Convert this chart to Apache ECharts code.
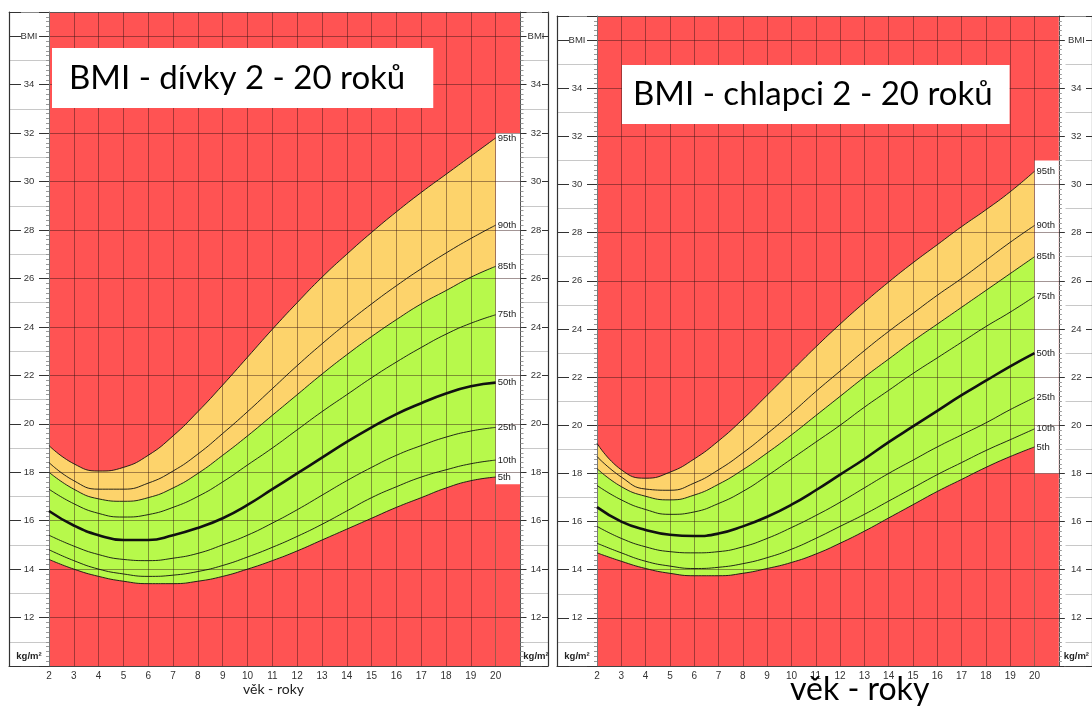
<!DOCTYPE html>
<html><head><meta charset="utf-8">
<script src="https://cdn.jsdelivr.net/npm/echarts@6/dist/echarts.min.js"></script>
<style>html,body{margin:0;padding:0;background:#fff;}#c{width:1092px;height:708px;}</style>
</head><body><div id="c"></div>
<script>
const ages = [2,3,4,5,6,7,8,9,10,11,12,13,14,15,16,17,18,19,20];
const pctLabels = ['5th','10th','25th','50th','75th','85th','90th','95th'];
// Girls (dívky)
const girlsP5  = [14.4,14.0,13.7,13.5,13.4,13.4,13.5,13.7,14.0,14.35,14.75,15.2,15.65,16.1,16.55,16.95,17.35,17.65,17.8];
const girlsP10 = [14.8,14.35,14.0,13.8,13.7,13.75,13.9,14.15,14.5,14.9,15.35,15.85,16.4,16.95,17.4,17.8,18.1,18.35,18.5];
const girlsP25 = [15.4,14.95,14.6,14.4,14.35,14.45,14.65,15.0,15.4,15.9,16.45,17.05,17.65,18.2,18.7,19.1,19.45,19.7,19.85];
const girlsP50 = [16.4,15.8,15.4,15.2,15.2,15.4,15.7,16.1,16.65,17.3,17.95,18.6,19.25,19.85,20.4,20.85,21.25,21.55,21.7];
const girlsP75 = [17.3,16.7,16.3,16.15,16.25,16.55,17.0,17.6,18.3,19.0,19.75,20.5,21.2,21.9,22.55,23.15,23.7,24.15,24.5];
const girlsP85 = [18.0,17.3,16.9,16.8,16.95,17.35,17.95,18.7,19.5,20.35,21.2,22.05,22.85,23.6,24.3,24.95,25.5,26.05,26.5];
const girlsP90 = [18.4,17.65,17.3,17.3,17.55,18.05,18.75,19.6,20.5,21.45,22.4,23.3,24.15,24.95,25.7,26.4,27.05,27.65,28.2];
const girlsP95 = [19.1,18.35,18.05,18.2,18.7,19.5,20.5,21.6,22.75,23.9,25.0,26.05,27.0,27.9,28.75,29.55,30.3,31.05,31.8];
// Boys (chlapci)
const boysP5  = [14.7,14.35,14.05,13.85,13.75,13.75,13.85,14.05,14.3,14.65,15.1,15.6,16.15,16.7,17.25,17.75,18.25,18.7,19.1];
const boysP10 = [15.1,14.7,14.35,14.15,14.05,14.1,14.25,14.5,14.85,15.3,15.8,16.3,16.85,17.4,17.95,18.45,18.95,19.4,19.85];
const boysP25 = [15.8,15.3,14.95,14.75,14.7,14.75,14.95,15.3,15.75,16.25,16.8,17.4,18.0,18.55,19.1,19.6,20.1,20.65,21.15];
const boysP50 = [16.6,16.0,15.65,15.45,15.4,15.5,15.8,16.2,16.7,17.3,17.95,18.6,19.3,19.95,20.6,21.25,21.85,22.45,23.0];
const boysP75 = [17.5,16.9,16.5,16.3,16.4,16.75,17.25,17.9,18.6,19.3,20.0,20.75,21.45,22.15,22.8,23.45,24.1,24.7,25.35];
const boysP85 = [18.2,17.45,17.05,16.9,17.1,17.55,18.15,18.85,19.6,20.4,21.2,22.0,22.75,23.5,24.2,24.9,25.6,26.3,27.0];
const boysP90 = [18.7,17.85,17.35,17.3,17.6,18.15,18.85,19.65,20.5,21.4,22.25,23.1,23.9,24.65,25.4,26.1,26.85,27.6,28.3];
const boysP95 = [19.25,18.15,17.8,18.05,18.6,19.35,20.25,21.25,22.25,23.25,24.2,25.1,25.95,26.75,27.5,28.25,28.95,29.7,30.55];
// label boxes (white column low/high BMI)
const girlsLabelBox = [17.5, 32.0];
const boysLabelBox = [18.0, 31.0];
const titleGirls = 'BMI - dívky 2 - 20 roků';
const titleBoys = 'BMI - chlapci 2 - 20 roků';
const xName = 'věk - roky';

const RED = '#FF5353', YEL = '#FDD36B', GRN = '#B7F94B';
const GRIDC = 'rgba(50,20,20,0.45)';
const FONT = 'Liberation Sans';

function pairs(arr){ return ages.map((a,i)=>[a,arr[i]]); }
function yFmt(v){ if(v===36) return 'BMI'; if(v===10) return '{k|kg/m²}'; if(v===37) return ''; return String(v); }
const yRich = {k:{fontWeight:'bold',fontSize:9.5,fontFamily:FONT,color:'#222',padding:[0,0,20,0]}};

const grids = [], xAxes = [], yAxes = [], series = [];

function addChart(cfg){
  const g0 = grids.length;
  grids.push({left:cfg.l, width:cfg.r-cfg.l, top:cfg.top, bottom:42, show:true, backgroundColor:RED, borderWidth:0});
  grids.push({left:cfg.colL, width:cfg.l-cfg.colL, top:cfg.top, bottom:42, show:false});
  grids.push({left:cfg.r, width:cfg.colR-cfg.r, top:cfg.top, bottom:42, show:false});
  const xi = xAxes.length, yi = yAxes.length;
  xAxes.push({gridIndex:g0, type:'value', min:2, max:21, interval:1, position:'bottom', z:3,
    axisLine:{show:true, onZero:false, lineStyle:{color:'#444', width:1.2}}, axisTick:{show:false},
    axisLabel:{margin:5, fontSize:10, color:'#333', fontFamily:FONT, formatter:v=> v>20?'':String(v)},
    splitLine:{show:true, lineStyle:{color:GRIDC, width:1}}});
  xAxes.push({gridIndex:g0, type:'value', min:2, max:21, position:'top', axisLine:{show:true, lineStyle:{color:'#888', width:1}}, axisTick:{show:false}, axisLabel:{show:false}, splitLine:{show:false}});
  for (const gg of [g0+1, g0+2]) {
    xAxes.push({gridIndex:gg, type:'value', min:0, max:1, position:'bottom', axisLine:{show:true, onZero:false, lineStyle:{color:'#444', width:1.2}}, axisTick:{show:false}, axisLabel:{show:false}, splitLine:{show:false}});
    xAxes.push({gridIndex:gg, type:'value', min:0, max:1, position:'top', axisLine:{show:true, onZero:false, lineStyle:{color:'#888', width:1}}, axisTick:{show:false}, axisLabel:{show:false}, splitLine:{show:false}});
  }
  yAxes.push({gridIndex:g0, type:'value', min:10, max:37, interval:2, position:'left', z:3,
    axisLine:{show:true, onZero:false, lineStyle:{color:'#777', width:1}},
    axisTick:{show:true, length:10, lineStyle:{color:'#333'}},
    minorTick:{show:true, splitNumber:10, length:3, lineStyle:{color:'#999'}},
    axisLabel:{margin:20, align:'center', fontSize:9.5, color:'#333', fontFamily:FONT, formatter:yFmt, rich:yRich},
    splitLine:{show:true, lineStyle:{color:GRIDC, width:1}}});
  yAxes.push({gridIndex:g0, type:'value', min:10, max:37, interval:2, position:'right', z:3,
    axisLine:{show:true, onZero:false, lineStyle:{color:'#555', width:1}},
    axisTick:{show:true, length:6, lineStyle:{color:'#333'}},
    minorTick:{show:true, splitNumber:10, length:3, lineStyle:{color:'#999'}},
    axisLabel:{margin:cfg.rMargin, align:'center', fontSize:9.5, color:'#333', fontFamily:FONT, formatter:yFmt, rich:yRich},
    splitLine:{show:false}});
  yAxes.push({gridIndex:g0+1, type:'value', min:10, max:37, interval:2, position:'left',
    axisLine:{show:true, onZero:false, lineStyle:{color:'#333', width:1.2}},
    axisTick:{show:true, inside:true, length:12, lineStyle:{color:'#333'}},
    axisLabel:{show:false}, splitLine:{show:false},
    minorTick:{show:false, splitNumber:2}, minorSplitLine:{show:true, lineStyle:{color:'#c8c8c8', width:1}}});
  yAxes.push({gridIndex:g0+2, type:'value', min:10, max:37, interval:2, position:'right',
    axisLine:{show:true, onZero:false, lineStyle:{color:'#333', width:1.2}},
    axisTick:{show:true, inside:true, length:6, lineStyle:{color:'#333'}},
    axisLabel:{show:false}, splitLine:{show:false},
    minorTick:{show:false, splitNumber:2}, minorSplitLine:{show:true, lineStyle:{color:'#c8c8c8', width:1}}});

  const base = {xAxisIndex:xi, yAxisIndex:yi, type:'line', symbol:'none', silent:true, animation:false};
  const fills = [[cfg.p[7], YEL], [cfg.p[5], GRN], [cfg.p[0], RED]];
  for (const [arr, col] of fills) {
    series.push(Object.assign({}, base, {data:pairs(arr), smooth:0.5, z:2, lineStyle:{width:0}, areaStyle:{color:col, opacity:1, origin:'start'}}));
  }
  series.push(Object.assign({}, base, {data:[[20,cfg.box[1]],[21,cfg.box[1]]], z:2, lineStyle:{width:0}, areaStyle:{color:'#fff', opacity:1, origin:'start'}}));
  series.push(Object.assign({}, base, {data:[[20,cfg.box[0]],[21,cfg.box[0]]], z:2, lineStyle:{width:0}, areaStyle:{color:RED, opacity:1, origin:'start'}}));
  cfg.p.forEach((arr, k) => {
    series.push(Object.assign({}, base, {data:pairs(arr), smooth:0.5, z:4,
      lineStyle:{color:'#111', width: k===3 ? 2.6 : 0.9},
      endLabel:{show:true, formatter:pctLabels[k], fontSize:9.5, color:'#222', fontFamily:FONT, distance:2}}));
  });
}

addChart({l:49, r:520.5, colL:9, colR:548, top:12, rMargin:15.5, box:girlsLabelBox,
  p:[girlsP5,girlsP10,girlsP25,girlsP50,girlsP75,girlsP85,girlsP90,girlsP95]});
addChart({l:597, r:1065.5, colL:557, colR:1100, top:16, rMargin:17.5, box:boysLabelBox,
  p:[boysP5,boysP10,boysP25,boysP50,boysP75,boysP85,boysP90,boysP95]});

const chart = echarts.init(document.getElementById('c'), null, {renderer:'canvas'});
chart.setOption({
  animation:false,
  backgroundColor:'#fff',
  title:[
    {text:titleGirls, left:52, top:48, backgroundColor:'#fff', padding:[10,28,10,17],
      textStyle:{fontFamily:'Lato', fontSize:33, fontWeight:'normal', color:'#000', lineHeight:40}},
    {text:titleBoys, left:622, top:65, backgroundColor:'#fff', padding:[9,17,10,11],
      textStyle:{fontFamily:'Lato', fontSize:33, fontWeight:'normal', color:'#000', lineHeight:40}},
    {text:xName, left:243, top:681, padding:0, textStyle:{fontFamily:'Lato', fontSize:14, fontWeight:'normal', color:'#222', lineHeight:16}},
    {text:xName, left:790, top:672, padding:0, textStyle:{fontFamily:'Lato', fontSize:32, fontWeight:'normal', color:'#000', lineHeight:36}}
  ],
  grid:grids, xAxis:xAxes, yAxis:yAxes, series:series
});
</script></body></html>
